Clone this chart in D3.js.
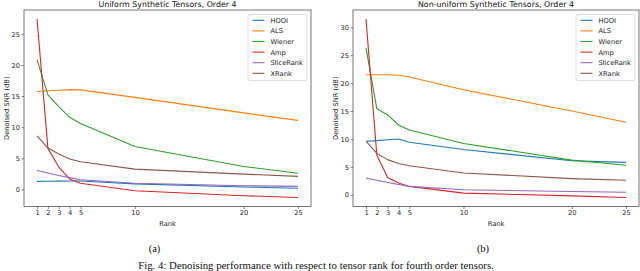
<!DOCTYPE html>
<html>
<head>
<meta charset="utf-8">
<script src="https://cdn.jsdelivr.net/npm/d3@7"></script>
<style>
  body { margin: 0; background: #fff; }
  svg { display: block; }
</style>
</head>
<body>
<div id="container"></div>
<script>
    // Ranks on the x axis
    const ranks = [1, 2, 3, 4, 5, 10, 20, 25];
    const methods = ["HOOI", "ALS", "Wiener", "Amp", "SliceRank", "XRank"];

    // Uniform synthetic tensors (dB)
    const hooiU   = [1.3, 1.32, 1.34, 1.35, 1.35, 0.9, 0.4, 0.2];
    const alsU    = [15.75, 15.85, 15.95, 16.05, 16.0, 14.8, 12.3, 11.1];
    const wienerU = [20.85, 15.2, 13.3, 11.6, 10.6, 6.9, 3.7, 2.6];
    const ampU    = [27.4, 6.6, 3.6, 1.7, 1.0, -0.2, -1.0, -1.3];
    const sliceU  = [3.06, 2.65, 2.25, 1.9, 1.56, 1.0, 0.6, 0.5];
    const xrankU  = [8.6, 6.65, 5.7, 4.9, 4.45, 3.27, 2.47, 2.1];

    // Non-uniform synthetic tensors (dB)
    const hooiN   = [9.6, 9.7, 9.85, 10.0, 9.4, 8.1, 6.1, 5.8];
    const alsN    = [21.5, 21.5, 21.5, 21.4, 21.1, 18.8, 15.0, 13.0];
    const wienerN = [26.3, 15.4, 14.3, 12.5, 11.6, 9.2, 6.2, 5.3];
    const ampN    = [31.5, 7.1, 3.1, 2.1, 1.5, 0.3, -0.2, -0.5];
    const sliceN  = [3.0, 2.6, 2.2, 1.85, 1.5, 0.9, 0.6, 0.45];
    const xrankN  = [9.6, 7.4, 6.3, 5.6, 5.2, 3.9, 2.9, 2.6];

    // Tick labels
    const xTicks = [1, 2, 3, 4, 5, 10, 20, 25];
    const yTicksU = [0, 5, 10, 15, 20, 25];
    const yTicksN = [0, 5, 10, 15, 20, 25, 30];

    // matplotlib tab10 colours
    const colors = ["#1f77b4", "#ff7f0e", "#2ca02c", "#d62728", "#9467bd", "#8c564b"];

    const width = 640, height = 271;
    const font = "DejaVu Sans, sans-serif";

    const svg = d3.select("#container")
                    .append("svg")
                    .attr("width", width)
                    .attr("height", height)
                    .style("background-color", "white");

    // Draws one panel
    function drawPanel(left, right, title, series, yTicks, sub) {
        const top = 10, bottom = 206.5;

        const x = d3.scaleLinear()
                    .domain([1 - 1.2, 25 + 1.2])
                    .range([left, right]);

        const allVals = series.flat();
        const lo = d3.min(allVals), hi = d3.max(allVals);
        const pad = (hi - lo) * 0.05;
        const y = d3.scaleLinear()
                    .domain([lo - pad, hi + pad])
                    .range([bottom, top]);

        const g = svg.append("g");

        // X axis
        g.append("g")
            .attr("transform", "translate(0," + bottom + ")")
            .call(d3.axisBottom(x).tickValues(xTicks).tickSize(2.5).tickPadding(1.5).tickFormat(d3.format("d")))
            .call(a => a.select(".domain").remove())
            .call(a => a.selectAll("line").attr("stroke", "#333").attr("stroke-width", 0.6))
            .call(a => a.selectAll("text").attr("font-family", font).attr("font-size", 6.7).attr("fill", "#222"));

        // Y axis
        g.append("g")
            .attr("transform", "translate(" + left + ",0)")
            .call(d3.axisLeft(y).tickValues(yTicks).tickSize(2.5).tickPadding(1.5))
            .call(a => a.select(".domain").remove())
            .call(a => a.selectAll("line").attr("stroke", "#333").attr("stroke-width", 0.6))
            .call(a => a.selectAll("text").attr("font-family", font).attr("font-size", 6.7).attr("fill", "#222"));

        // Lines
        const line = d3.line()
                        .x((d, i) => x(ranks[i]))
                        .y(d => y(d));

        series.forEach(function(vals, k) {
            g.append("path")
                .datum(vals)
                .attr("d", line)
                .attr("fill", "none")
                .attr("stroke", colors[k])
                .attr("stroke-width", 1.1)
                .attr("stroke-linejoin", "round");
        });

        // Frame
        g.append("rect")
            .attr("x", left)
            .attr("y", top)
            .attr("width", right - left)
            .attr("height", bottom - top)
            .attr("fill", "none")
            .attr("stroke", "#555")
            .attr("stroke-width", 0.8);

        // Title
        g.append("text")
            .attr("x", (left + right) / 2)
            .attr("y", 7.2)
            .attr("text-anchor", "middle")
            .attr("font-family", font)
            .attr("font-size", 7.9)
            .attr("fill", "#111")
            .text(title);

        // Axis labels
        g.append("text")
            .attr("x", (left + right) / 2)
            .attr("y", 226)
            .attr("text-anchor", "middle")
            .attr("font-family", font)
            .attr("font-size", 6.7)
            .attr("fill", "#222")
            .text("Rank");

        g.append("text")
            .attr("transform", "translate(" + (left - 15) + "," + ((top + bottom) / 2) + ") rotate(-90)")
            .attr("text-anchor", "middle")
            .attr("font-family", font)
            .attr("font-size", 6.7)
            .attr("fill", "#222")
            .text("Denoised SNR (dB)");

        // Legend
        const lw = 59, lh = 66;
        const lx = right - 4 - lw, ly = 14.5;
        const leg = g.append("g").attr("transform", "translate(" + lx + "," + ly + ")");
        leg.append("rect")
            .attr("width", lw)
            .attr("height", lh)
            .attr("rx", 2)
            .attr("fill", "white")
            .attr("fill-opacity", 0.8)
            .attr("stroke", "#d0d0d0")
            .attr("stroke-width", 0.7);

        methods.forEach(function(m, k) {
            const yy = 5.8 + k * 10.6;
            leg.append("line")
                .attr("x1", 4.5).attr("x2", 16.5)
                .attr("y1", yy).attr("y2", yy)
                .attr("stroke", colors[k])
                .attr("stroke-width", 1.1);
            leg.append("text")
                .attr("x", 22.5)
                .attr("y", yy + 2.4)
                .attr("font-family", font)
                .attr("font-size", 6.7)
                .attr("fill", "#222")
                .text(m);
        });

        // Sub caption
        svg.append("text")
            .attr("x", (left + right) / 2 - 13)
            .attr("y", 252)
            .attr("text-anchor", "middle")
            .attr("font-family", "Liberation Serif, serif")
            .attr("font-size", 10.5)
            .attr("fill", "#111")
            .text(sub);
    }

    drawPanel(24, 311, "Uniform Synthetic Tensors, Order 4",
              [hooiU, alsU, wienerU, ampU, sliceU, xrankU], yTicksU, "(a)");
    drawPanel(353, 639, "Non-uniform Synthetic Tensors, Order 4",
              [hooiN, alsN, wienerN, ampN, sliceN, xrankN], yTicksN, "(b)");

    // Figure caption at the bottom edge
    svg.append("text")
        .attr("x", 316)
        .attr("y", 268.5)
        .attr("text-anchor", "middle")
        .attr("font-family", "Liberation Serif, serif")
        .attr("font-size", 10.8)
        .attr("fill", "#111")
        .text("Fig. 4: Denoising performance with respect to tensor rank for fourth order tensors.");
</script>
</body>
</html>
